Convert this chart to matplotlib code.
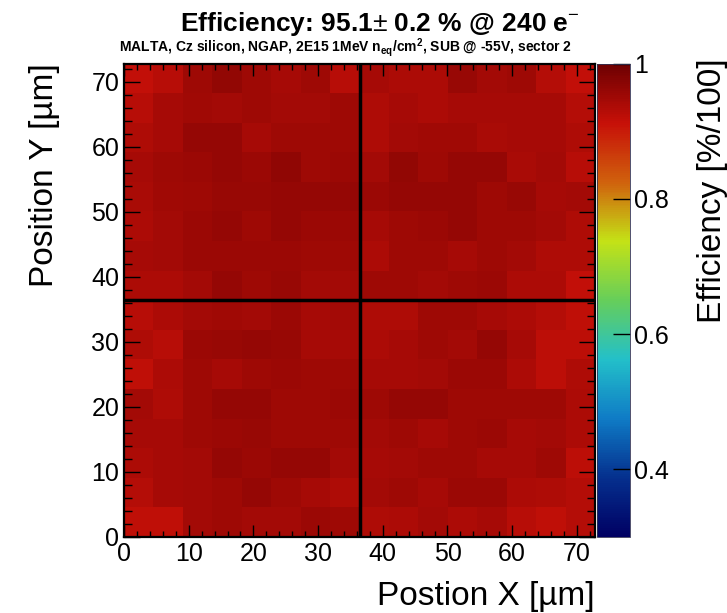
import numpy as np
import matplotlib
matplotlib.use("Agg")
import matplotlib.pyplot as plt
from matplotlib.colors import LinearSegmentedColormap
from matplotlib.ticker import MultipleLocator

plt.rcParams["font.family"] = ["Liberation Sans", "DejaVu Sans"]
plt.rcParams["mathtext.fontset"] = "custom"
plt.rcParams["mathtext.rm"] = "Liberation Sans"
plt.rcParams["mathtext.bf"] = "Liberation Sans:bold"

# two MALTA pixels (36.4 um pitch), 16 x 16 bins
pitch = 36.4
n_bins = 16

# efficiency per bin, rows from top (y high) to bottom (y = 0)
eff_rows = [
    [.915, .927, .951, .963, .951, .943, .951, .927, .943, .939, .939, .957, .947, .951, .931, .915],
    [.927, .943, .949, .947, .953, .947, .947, .953, .935, .943, .939, .943, .943, .943, .943, .931],
    [.935, .943, .959, .961, .943, .951, .951, .953, .935, .947, .949, .949, .941, .943, .943, .935],
    [.943, .951, .955, .959, .955, .965, .953, .955, .947, .963, .951, .961, .961, .941, .947, .927],
    [.941, .949, .951, .957, .957, .959, .961, .961, .955, .959, .959, .959, .951, .957, .943, .947],
    [.939, .947, .955, .959, .953, .961, .955, .955, .943, .951, .955, .959, .951, .951, .947, .935],
    [.943, .947, .955, .955, .955, .955, .951, .953, .939, .951, .951, .943, .951, .947, .935, .935],
    [.939, .937, .947, .961, .951, .957, .947, .947, .951, .953, .947, .951, .955, .939, .939, .915],
    [.927, .939, .947, .949, .947, .955, .943, .947, .935, .935, .951, .951, .943, .939, .931, .919],
    [.935, .927, .955, .957, .959, .957, .943, .943, .939, .943, .951, .947, .959, .943, .923, .923],
    [.919, .939, .951, .943, .951, .955, .953, .951, .943, .943, .947, .955, .955, .939, .923, .935],
    [.947, .935, .951, .959, .961, .951, .951, .955, .951, .959, .959, .953, .953, .953, .953, .939],
    [.943, .943, .951, .955, .957, .951, .951, .951, .947, .953, .943, .951, .955, .943, .947, .939],
    [.939, .943, .947, .959, .955, .959, .959, .947, .943, .947, .951, .951, .943, .943, .951, .923],
    [.931, .943, .947, .951, .961, .951, .943, .935, .947, .953, .943, .955, .955, .939, .935, .931],
    [.919, .919, .947, .951, .947, .947, .955, .951, .935, .939, .947, .939, .943, .927, .919, .931],
]

x_ticks = [0, 10, 20, 30, 40, 50, 60, 70]
z_ticks = [0.4, 0.6, 0.8, 1.0]
z_labels = ["0.4", "0.6", "0.8", "1"]
z_min, z_max = 0.3, 1.0

# ROOT kRainBow palette
stops = [0.0, 0.125, 0.25, 0.375, 0.5, 0.625, 0.75, 0.875, 1.0]
red = [0, 5, 15, 35, 102, 196, 208, 199, 110]
green = [0, 48, 124, 192, 206, 226, 97, 16, 0]
blue = [99, 142, 198, 201, 90, 22, 13, 8, 2]
cmap = LinearSegmentedColormap.from_list(
    "rainbow_root",
    [(s, (r / 255, g / 255, b / 255)) for s, r, g, b in zip(stops, red, green, blue)],
    N=255,
)

eff = np.flipud(np.array(eff_rows))
edges = np.linspace(0, 2 * pitch, n_bins + 1)

W, H = 727, 613
fig = plt.figure(figsize=(W / 100, H / 100), dpi=100)
ax = fig.add_axes([124 / W, (H - 537) / H, 471 / W, 473.5 / H])
cax = fig.add_axes([597 / W, (H - 537) / H, 33 / W, 473.5 / H])

mesh = ax.pcolormesh(edges, edges, eff, cmap=cmap, vmin=z_min, vmax=z_max)
ax.axvline(pitch, color="black", lw=2.5)
ax.axhline(pitch, color="black", lw=2.5)

ax.set_xlim(0, 2 * pitch)
ax.set_ylim(0, 2 * pitch)
ax.set_xticks(x_ticks)
ax.set_yticks(x_ticks)
ax.xaxis.set_minor_locator(MultipleLocator(2))
ax.yaxis.set_minor_locator(MultipleLocator(2))
ax.tick_params(axis="both", which="both", direction="in", top=True, right=True,
               labelsize=18, width=1.0, pad=3.5)
ax.tick_params(axis="x", which="major", length=8.6)
ax.tick_params(axis="x", which="minor", length=4.3)
ax.tick_params(axis="y", which="major", length=11.5)
ax.tick_params(axis="y", which="minor", length=5.8)
for sp in ax.spines.values():
    sp.set_linewidth(1.6)

cb = fig.colorbar(mesh, cax=cax)
cb.set_ticks(z_ticks)
cb.set_ticklabels(z_labels)
cb.minorticks_off()
cax.tick_params(direction="in", length=12, width=1.0, labelsize=18, pad=3,
                right=True, left=False)
cb.outline.set_linewidth(0.6)
cb.outline.set_edgecolor("#333355")

fig.text(29 / W, 1 - 63 / H, "Position Y [µm]", rotation=90, ha="left", va="top",
         fontsize=24)
fig.text(595 / W, (H - 605) / H, "Postion X [µm]", ha="right", va="baseline",
         fontsize=24)
# in the original the z title runs into the right edge; keep it just inside
fig.text(697 / W, 1 - 58 / H, "Efficiency [%/100]", rotation=90, ha="left",
         va="top", fontsize=24)

fig.text(380 / W, 1 - 31 / H, r"Efficiency: 95.1$\pm$ 0.2 % @ 240 e$^{-}$",
         ha="center", va="baseline", fontsize=19, fontweight="bold")
fig.text(345 / W, 1 - 52 / H,
         r"MALTA, Cz silicon, NGAP, 2E15 1MeV n$_{\mathbf{eq}}$/cm$^{\mathbf{2}}$, SUB @ -55V, sector 2",
         ha="center", va="baseline", fontsize=10, fontweight="bold")

fig.savefig("out.png", dpi=100)
